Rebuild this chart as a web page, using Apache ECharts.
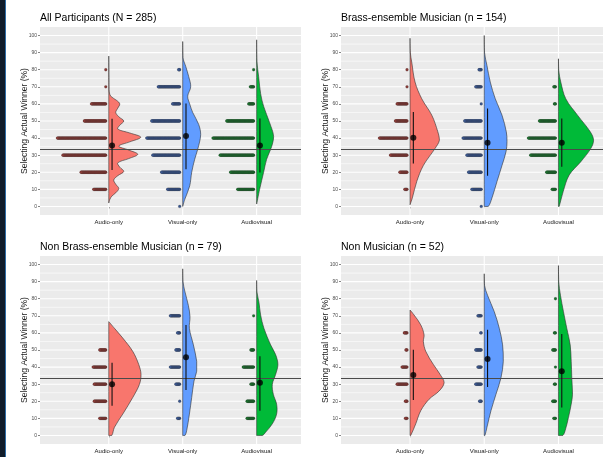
<!DOCTYPE html>
<html>
<head>
<meta charset="utf-8">
<script src="https://cdn.jsdelivr.net/npm/echarts@6/dist/echarts.min.js"></script>
<style>
html, body { margin: 0; padding: 0; background: #fff; }
#chart { width: 603px; height: 457px; }
</style>
</head>
<body>
<div id="chart"></div>
<script>
// categories and panel titles
const categories = ['Audio-only', 'Visual-only', 'Audiovisual'];
const panelTitles = ['All Participants (N = 285)', 'Brass-ensemble Musician (n = 154)',
  'Non Brass-ensemble Musician (n = 79)', 'Non Musician (n = 52)'];
const levels = [0, 10, 20, 30, 40, 50, 60, 70, 80, 90, 100];
const yTicks = [0, 10, 20, 30, 40, 50, 60, 70, 80, 90, 100];
const minorBreaks = [5, 15, 25, 35, 45, 55, 65, 75, 85, 95];
const chanceLevel = 33.3;

// dot counts at each level (0..100) per category
const countsAll = [
  [0, 23, 46, 79, 89, 40, 27, 1, 1, 0, 0],
  [1, 23, 34, 50, 61, 52, 14, 40, 3, 0, 0],
  [0, 30, 43, 62, 75, 50, 10, 7, 1, 0, 0]
];
const countsBrass = [
  [0, 5, 14, 31, 51, 22, 19, 1, 1, 0, 0],
  [1, 18, 24, 27, 34, 31, 1, 11, 5, 0, 0],
  [0, 7, 17, 46, 50, 30, 3, 4, 0, 0, 0]
];
const countsNonBrass = [
  [0, 12, 22, 22, 24, 12, 0, 0, 0, 0, 0],
  [0, 5, 1, 8, 18, 8, 5, 18, 0, 0, 0],
  [0, 13, 13, 6, 20, 6, 0, 1, 0, 0, 0]
];
const countsNonMus = [
  [0, 4, 4, 19, 10, 3, 6, 0, 0, 0, 0],
  [0, 0, 4, 11, 7, 11, 2, 7, 0, 0, 0],
  [0, 4, 6, 3, 1, 6, 3, 0, 1, 0, 0]
];

// mean, lower and upper end of the error bar
const statsAll = [[35.7, 21.4, 51.3], [41.2, 21.7, 60.2], [35.7, 19.8, 51.5]];
const statsBrass = [[40.2, 25.2, 55.3], [37.3, 18, 57.3], [37.3, 23.3, 51.5]];
const statsNonBrass = [[29.9, 17.4, 42.5], [45.8, 26.6, 64.7], [30.9, 14.5, 46.3]];
const statsNonMus = [[35.3, 20.7, 50.2], [44.8, 28.4, 61.8], [37.6, 16.4, 59.3]];

// half violin density profiles: [value, density width]
const violinAll = [
  [[2, 0], [4, 1], [6, 3], [8, 7], [10.5, 10], [13, 7], [15.5, 5], [18, 9], [20.5, 15], [23, 11], [25.5, 9],
   [28, 20], [30.5, 29], [33, 20], [35.3, 10], [37.8, 21], [40.5, 32], [43, 21], [45.3, 9], [47.5, 11],
   [50, 15], [52.5, 10], [55, 7], [57.5, 9], [60, 11], [62, 8], [64.5, 2], [67, 0.5], [70, 0.3], [88, 0]],
  [[0, 0], [4, 2], [12, 7], [20, 9], [27.6, 12], [33.4, 15], [42, 18], [48, 16], [55, 10], [60, 7], [64.5, 5], [70, 8], [76, 6], [82, 3], [87, 0.3], [96.5, 0]],
  [[1.4, 0], [10, 3], [20, 7], [27.6, 10], [35, 15], [41, 17], [49, 13], [58.6, 7], [66, 4], [76, 2], [85, 0.3], [97.5, 0]]
];
const violinBrass = [
  [[1, 0], [5, 2.3], [14.6, 6.7], [24, 13.3], [34, 25], [38.8, 29.3], [43.7, 27.7], [53.4, 21.7], [63, 11.7], [72.8, 5], [84.5, 1.7], [90, 0.3], [98.4, 0]],
  [[0, 4], [5, 7.7], [14.6, 12.7], [24, 17.7], [32, 21.7], [38, 22.7], [43.7, 22], [53.4, 17.7], [63, 11], [72.8, 6], [82.5, 2.7], [90, 0.3], [100, 0]],
  [[0, 0.7], [8.7, 4.7], [18.4, 10.7], [26.2, 22.3], [34, 32.3], [38.8, 35], [43.7, 31.7], [53.4, 19], [63, 7.3], [72.8, 2.3], [79.6, 0.3], [86.4, 0]]
];
const violinNonBrass = [
  [[0, 3], [4.8, 5.7], [12.5, 14], [22.2, 24], [29.9, 30.7], [35.7, 32.3], [41.5, 30], [49.2, 24], [57, 14], [62.7, 5.7], [66.6, 0]],
  [[0, 2.3], [2.9, 4], [12.5, 6.7], [22.2, 9], [31.8, 11.3], [37.6, 14], [43.4, 14], [53, 10.7], [62.7, 6.7], [69.5, 7.3], [76, 5.7], [84, 2.3], [90, 0.3], [97.5, 0]],
  [[0, 5.7], [1.9, 9], [6.8, 15.7], [12.5, 20], [18.3, 20], [24.1, 16.7], [29.9, 15.7], [35.7, 19], [41.5, 21.3], [47.3, 19], [53, 14], [62.7, 7.3], [70.5, 4], [78, 2.3], [84, 0.3], [90.7, 0]]
];
const violinNonMus = [
  [[0, 0.7], [6.8, 5.7], [14.5, 10.7], [21.2, 19], [26, 29], [30.9, 34], [35.7, 30], [41.5, 23.3], [49.2, 15.7], [55, 13.3], [58.9, 14], [64.7, 10.7], [70.5, 4], [73.4, 0]],
  [[0, 0.7], [4.8, 2.7], [14.5, 6.7], [24.1, 11.7], [33.8, 16.7], [43.4, 19], [53, 18.3], [62.7, 15], [72.4, 10], [82, 3.3], [87.8, 0.3], [94.6, 0]],
  [[0, 4.3], [2.9, 6.7], [10.6, 10], [18.3, 12.7], [24.1, 14], [33.8, 13.3], [43.4, 12.7], [53, 11.7], [62.7, 8.3], [72.4, 5], [82, 2], [89.8, 0.3], [99.4, 0]]
];

const panels = [
  { counts: countsAll, stats: statsAll, violin: violinAll, left: 40, top: 27 },
  { counts: countsBrass, stats: statsBrass, violin: violinBrass, left: 341, top: 27 },
  { counts: countsNonBrass, stats: statsNonBrass, violin: violinNonBrass, left: 40, top: 256 },
  { counts: countsNonMus, stats: statsNonMus, violin: violinNonMus, left: 341, top: 256 }
];

const fills = ['#F8766D', '#619CFF', '#00BA38'];
const dotColors = ['#8c3b37', '#3a5790', '#1b6f2d'];
const sans = "'Liberation Sans', Arial, sans-serif";
const xMin = 0.07, xMax = 3.6;
const pxUnit = 1 / 74;          // one pixel in category units
const dotStep = 0.55 * pxUnit;  // stacked dot spacing
const dotGap = 3 * pxUnit;      // gap between category line and first dot
const meanShift = 3.3 * pxUnit;

const chart = echarts.init(document.getElementById('chart'), null, { renderer: 'canvas' });

const grids = [], xAxes = [], yAxes = [], titles = [], series = [];

panels.forEach((p, i) => {
  grids.push({ left: p.left, top: p.top, width: i % 2 ? 262 : 261, height: 188,
    show: true, backgroundColor: '#EBEBEB', borderWidth: 0 });
  titles.push({ text: panelTitles[i], left: p.left, top: p.top - 14.5, padding: 0,
    textStyle: { fontSize: 10.5, fontWeight: 'normal', color: '#000', fontFamily: sans } });
  xAxes.push({ type: 'value', gridIndex: i, min: xMin, max: xMax,
    axisLine: { show: false },
    axisTick: { show: true, customValues: [1, 2, 3], length: 2, lineStyle: { color: '#333', width: 0.6 } },
    axisLabel: { customValues: [1, 2, 3], formatter: v => categories[Math.round(v) - 1] || '',
      fontSize: 6, color: '#1a1a1a', margin: 4, fontFamily: sans },
    splitLine: { show: false } });
  yAxes.push({ type: 'value', gridIndex: i, min: -5, max: 105,
    name: 'Selecting Actual Winner (%)', nameLocation: 'middle', nameGap: 11, nameRotate: 90,
    nameMoveOverlap: false,
    nameTextStyle: { fontSize: 8.5, color: '#1a1a1a', fontFamily: sans },
    axisLine: { show: false },
    axisTick: { show: true, customValues: yTicks, length: 2, lineStyle: { color: '#333', width: 0.6 } },
    axisLabel: { customValues: yTicks, fontSize: 5, color: '#4d4d4d', margin: 3, fontFamily: sans },
    splitLine: { show: false } });

  // panel grid lines
  const lines = yTicks.map(v => ['h', v, 1]).concat(minorBreaks.map(v => ['h', v, 0]))
    .concat([1, 2, 3].map(c => ['v', c, 1]));
  series.push({ type: 'custom', xAxisIndex: i, yAxisIndex: i, z: 1, silent: true,
    data: lines.map((l, k) => [k]),
    renderItem: (params, api) => {
      const l = lines[api.value(0)];
      const cs = params.coordSys;
      const style = { stroke: '#fff', lineWidth: l[2] ? 1.1 : 0.6 };
      if (l[0] === 'h') {
        const y = api.coord([1, l[1]])[1];
        return { type: 'line', shape: { x1: cs.x, y1: y, x2: cs.x + cs.width, y2: y }, style };
      }
      const x = api.coord([l[1], 0])[0];
      return { type: 'line', shape: { x1: x, y1: cs.y, x2: x, y2: cs.y + cs.height }, style };
    } });

  // half violins
  series.push({ type: 'custom', xAxisIndex: i, yAxisIndex: i, z: 2, silent: true,
    data: [[0], [1], [2]],
    renderItem: (params, api) => {
      const k = api.value(0);
      const c = k + 1;
      const prof = p.violin[k];
      const pts = [];
      if (prof[0][1] > 0) pts.push(api.coord([c, prof[0][0]]));
      prof.forEach(([v, w]) => pts.push(api.coord([c + w * pxUnit, v])));
      if (prof[prof.length - 1][1] > 0) pts.push(api.coord([c, prof[prof.length - 1][0]]));
      const xs = pts.map(q => q[0]), ys = pts.map(q => q[1]);
      const box = [[Math.min(...xs), Math.min(...ys)], [Math.max(...xs), Math.max(...ys)]];
      return { type: 'polygon', shape: { points: pts, smooth: 0.35, smoothConstraint: box },
        style: { fill: fills[k], stroke: '#303030', lineWidth: 0.6 } };
    } });

  // chance line
  series.push({ type: 'custom', xAxisIndex: i, yAxisIndex: i, z: 3, silent: true,
    data: [[chanceLevel]],
    renderItem: (params, api) => {
      const cs = params.coordSys;
      const y = api.coord([1, api.value(0)])[1];
      return { type: 'line', shape: { x1: cs.x, y1: y, x2: cs.x + cs.width, y2: y },
        style: { stroke: '#4a4a4a', lineWidth: 1.1 } };
    } });

  // stacked dots
  p.counts.forEach((row, k) => {
    const data = [];
    row.forEach((n, li) => {
      for (let j = 0; j < n; j++) data.push([k + 1 - dotGap - j * dotStep, levels[li]]);
    });
    series.push({ type: 'scatter', xAxisIndex: i, yAxisIndex: i, z: 4, silent: true,
      symbolSize: 2.8, data,
      itemStyle: { color: dotColors[k], borderColor: '#2a2a2a', borderWidth: 0.2, opacity: 1 } });
  });

  // error bars
  series.push({ type: 'custom', xAxisIndex: i, yAxisIndex: i, z: 5, silent: true,
    data: p.stats.map((s, k) => [k + 1 + meanShift, s[1], s[2]]),
    renderItem: (params, api) => {
      const a = api.coord([api.value(0), api.value(1)]);
      const b = api.coord([api.value(0), api.value(2)]);
      return { type: 'line', shape: { x1: a[0], y1: a[1], x2: b[0], y2: b[1] },
        style: { stroke: '#111', lineWidth: 1.1 } };
    } });

  // means
  series.push({ type: 'scatter', xAxisIndex: i, yAxisIndex: i, z: 6, silent: true,
    symbolSize: 6, data: p.stats.map((s, k) => [k + 1 + meanShift, s[0]]),
    itemStyle: { color: '#000' } });
});

chart.setOption({
  animation: false,
  backgroundColor: '#fff',
  title: titles,
  grid: grids,
  xAxis: xAxes,
  yAxis: yAxes,
  series,
  graphic: [
    { type: 'rect', shape: { x: 0, y: 0, width: 5, height: 457 }, style: { fill: '#101c2a' }, z: 10 },
    { type: 'line', shape: { x1: 5.5, y1: 0, x2: 5.5, y2: 457 }, style: { stroke: '#2f6da6', lineWidth: 1 }, z: 10 }
  ]
});
</script>
</body>
</html>
